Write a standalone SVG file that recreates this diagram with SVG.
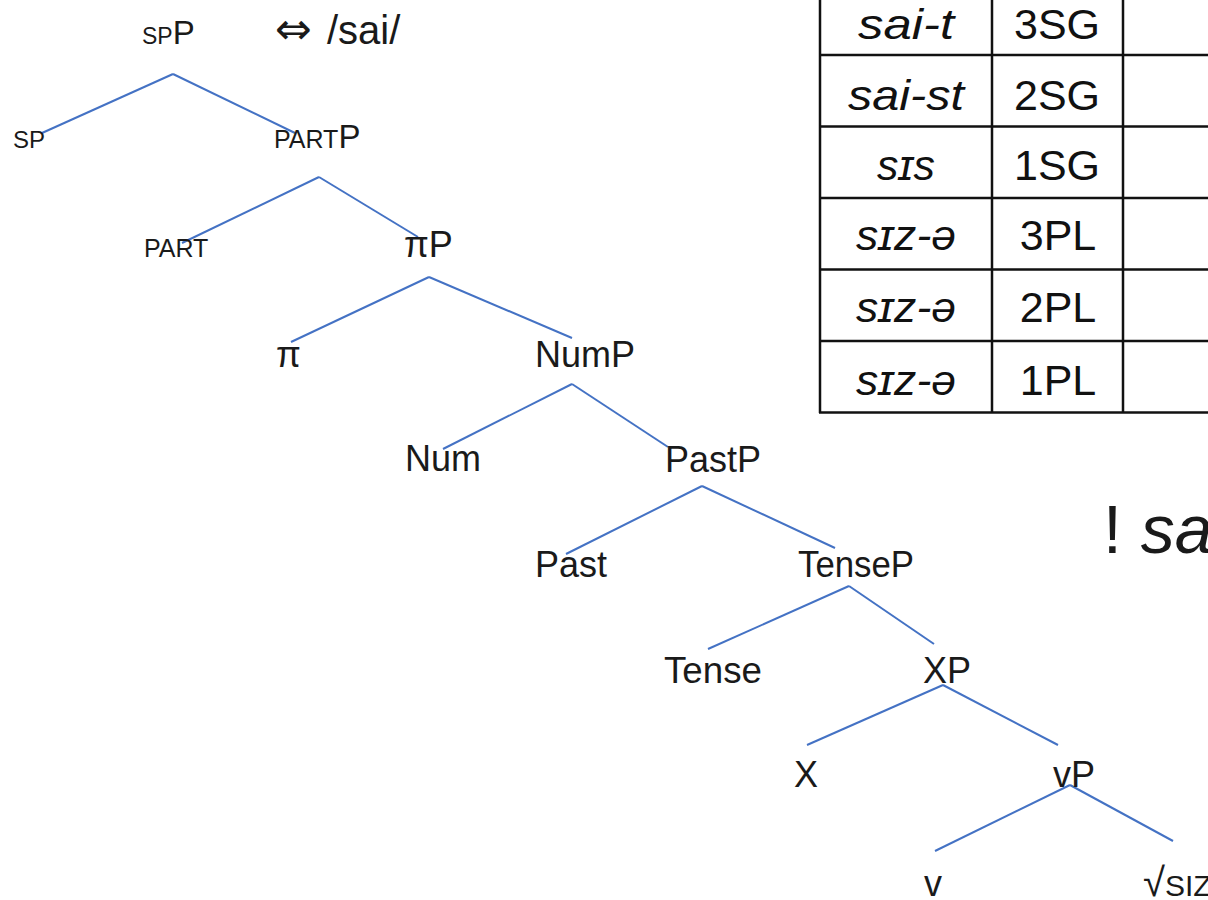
<svg xmlns="http://www.w3.org/2000/svg" width="1208" height="900" viewBox="0 0 1208 900">
<style>
.lbl{font-family:"Liberation Sans","DejaVu Sans",sans-serif;font-size:36px;fill:#1a1a1a}
.edge{stroke:#4472C4;stroke-width:2;fill:none}
.tb{stroke:#111;stroke-width:2.5;fill:none}
.cell{font-family:"Liberation Sans","DejaVu Sans",sans-serif;font-size:43px;fill:#111;text-anchor:middle}
.it{font-style:italic}
</style>
<rect width="1208" height="900" fill="#fff"/>
<g id="connectors">
<line class="edge" x1="173" y1="74" x2="42" y2="133"/>
<line class="edge" x1="173" y1="74" x2="295" y2="133"/>
<line class="edge" x1="319" y1="177" x2="182" y2="243"/>
<line class="edge" x1="319" y1="177" x2="418" y2="237"/>
<line class="edge" x1="429" y1="277" x2="291" y2="342"/>
<line class="edge" x1="429" y1="277" x2="572" y2="338"/>
<line class="edge" x1="572" y1="384" x2="443" y2="449"/>
<line class="edge" x1="572" y1="384" x2="668" y2="447"/>
<line class="edge" x1="702" y1="486" x2="566" y2="554"/>
<line class="edge" x1="702" y1="486" x2="835" y2="548"/>
<line class="edge" x1="849" y1="586" x2="708" y2="649"/>
<line class="edge" x1="849" y1="586" x2="934" y2="644"/>
<line class="edge" x1="943" y1="685" x2="807" y2="745"/>
<line class="edge" x1="943" y1="685" x2="1058" y2="745"/>
<line class="edge" x1="1070" y1="785" x2="935" y2="851"/>
<line class="edge" x1="1070" y1="785" x2="1173" y2="841"/>
</g>
<g id="node-spP"><text class="lbl" x="142" y="44"><tspan style="font-size:23px">SP</tspan><tspan style="font-size:33px">P</tspan></text></g>
<g id="exponent"><text class="lbl" x="275" y="44" style="font-family:'DejaVu Sans',sans-serif;font-size:44px">⇔</text><text class="lbl" x="327" y="44" style="font-size:40px">/sai/</text></g>
<g id="node-SP"><text class="lbl" x="13" y="148" style="font-size:24px">SP</text></g>
<g id="node-PARTP"><text class="lbl" x="274" y="148"><tspan style="font-size:25px">PART</tspan><tspan style="font-size:33px">P</tspan></text></g>
<g id="node-PART"><text class="lbl" x="144" y="257" style="font-size:25px">PART</text></g>
<g id="node-piP"><text class="lbl" x="404" y="257">πP</text></g>
<g id="node-pi"><text class="lbl" x="276" y="367">π</text></g>
<g id="node-NumP"><text class="lbl" x="535" y="367">NumP</text></g>
<g id="node-Num"><text class="lbl" x="405" y="471">Num</text></g>
<g id="node-PastP"><text class="lbl" x="665" y="472">PastP</text></g>
<g id="node-Past"><text class="lbl" x="535" y="577">Past</text></g>
<g id="node-TenseP"><text class="lbl" x="798" y="577" textLength="116" lengthAdjust="spacingAndGlyphs">TenseP</text></g>
<g id="node-Tense"><text class="lbl" x="664" y="683" textLength="98" lengthAdjust="spacingAndGlyphs">Tense</text></g>
<g id="node-XP"><text class="lbl" x="923" y="683">XP</text></g>
<g id="node-X"><text class="lbl" x="794" y="787">X</text></g>
<g id="node-vP"><text class="lbl" x="1053" y="787">vP</text></g>
<g id="node-v"><text class="lbl" x="924" y="896">v</text></g>
<g id="node-root"><text class="lbl" x="1143" y="896"><tspan style="font-size:40px">√</tspan><tspan style="font-size:30px">SIZ</tspan></text></g>
<g id="table">
<line class="tb" x1="820" y1="0" x2="820" y2="413"/>
<line class="tb" x1="992" y1="0" x2="992" y2="413"/>
<line class="tb" x1="1123" y1="0" x2="1123" y2="413"/>
<line class="tb" x1="819" y1="55" x2="1208" y2="55"/>
<line class="tb" x1="819" y1="126.5" x2="1208" y2="126.5"/>
<line class="tb" x1="819" y1="198" x2="1208" y2="198"/>
<line class="tb" x1="819" y1="269.5" x2="1208" y2="269.5"/>
<line class="tb" x1="819" y1="341" x2="1208" y2="341"/>
<line class="tb" x1="819" y1="412.5" x2="1208" y2="412.5"/>
<text class="cell it" x="906" y="39" textLength="96" lengthAdjust="spacingAndGlyphs">sai-t</text>
<text class="cell it" x="906" y="110" textLength="116" lengthAdjust="spacingAndGlyphs">sai-st</text>
<text class="cell it" x="906" y="180" textLength="58" lengthAdjust="spacingAndGlyphs">sɪs</text>
<text class="cell it" x="906" y="250" textLength="100" lengthAdjust="spacingAndGlyphs">sɪz-ə</text>
<text class="cell it" x="906" y="322" textLength="100" lengthAdjust="spacingAndGlyphs">sɪz-ə</text>
<text class="cell it" x="906" y="395" textLength="100" lengthAdjust="spacingAndGlyphs">sɪz-ə</text>
<text class="cell" x="1057" y="39">3SG</text>
<text class="cell" x="1057" y="110">2SG</text>
<text class="cell" x="1057" y="180">1SG</text>
<text class="cell" x="1058" y="250">3PL</text>
<text class="cell" x="1058" y="322">2PL</text>
<text class="cell" x="1058" y="395">1PL</text>
</g>
<g id="note"><text class="lbl" x="1103" y="553" style="font-size:68px">! <tspan style="font-style:italic">sa</tspan></text></g>
</svg>
